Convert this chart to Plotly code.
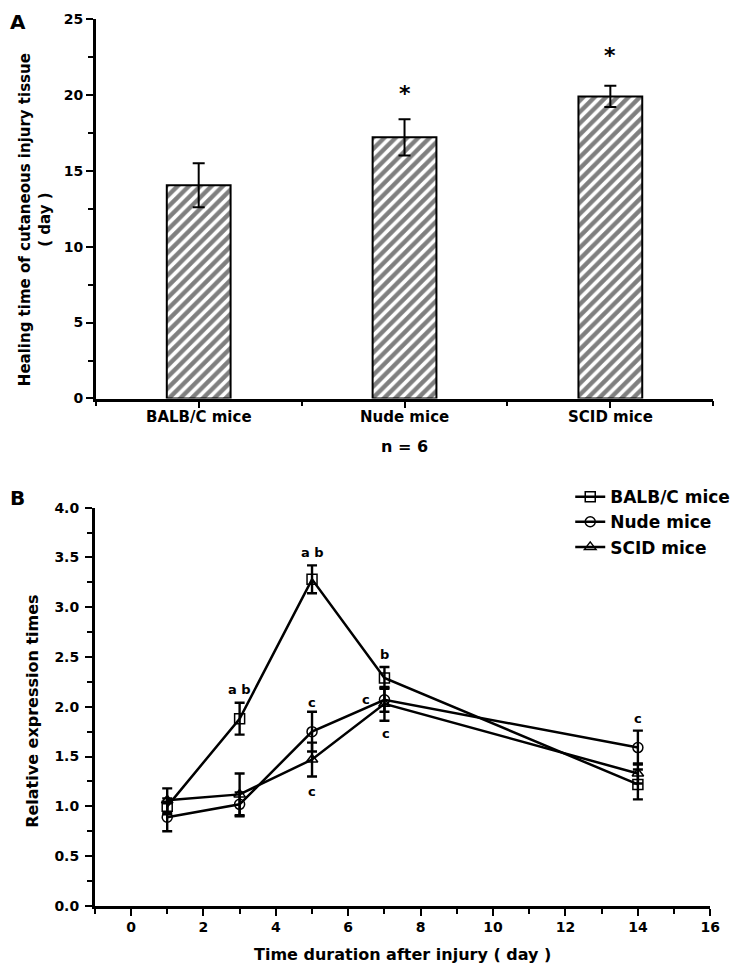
import plotly.graph_objects as go

# ---------------- data ----------------
groups = ["BALB/C mice", "Nude mice", "SCID mice"]
healing_days = [14.05, 17.2, 19.9]
healing_err = [1.45, 1.2, 0.7]
star_y = [None, 20.1, 22.6]

days = [1, 3, 5, 7, 14]
balbc = [1.0, 1.88, 3.28, 2.29, 1.22]
balbc_err = [0.08, 0.16, 0.14, 0.11, 0.15]
nude = [0.89, 1.02, 1.75, 2.07, 1.59]
nude_err = [0.14, 0.12, 0.20, 0.12, 0.17]
scid = [1.06, 1.12, 1.47, 2.03, 1.33]
scid_err = [0.12, 0.21, 0.17, 0.17, 0.10]

# significance letters: (day, y, text)
sig_labels = [(3, 2.17, "a b"), (5, 3.55, "a b"), (7, 2.52, "b"),
              (5, 2.04, "c"), (5, 1.15, "c"), (6.5, 2.07, "c"),
              (7.05, 1.73, "c"), (14, 1.88, "c")]

# ---------------- figure ----------------
# page is 750x974; the body keeps its default 8px margin
PAGE_W, PAGE_H, M = 750, 974, 8
W, H = PAGE_W - 2 * M, PAGE_H - 2 * M
BOLD = "DejaVu Sans"
fig = go.Figure()

fig.add_trace(go.Bar(
    x=list(range(len(groups))), y=healing_days, width=0.31,
    marker=dict(color="white", line=dict(color="black", width=2),
                pattern=dict(shape="/", fgcolor="black", bgcolor="white",
                             size=8, solidity=0.55)),
    error_y=dict(type="data", array=healing_err, color="black",
                 thickness=2, width=6),
    xaxis="x", yaxis="y", showlegend=False))

for i, sy in enumerate(star_y):
    if sy is not None:
        fig.add_annotation(x=i, y=sy, xref="x", yref="y", text="*",
                           showarrow=False, yanchor="middle",
                           font=dict(size=22, color="black", family=BOLD, weight="bold"))

series = [("BALB/C mice", balbc, balbc_err, "square-open"),
          ("Nude mice", nude, nude_err, "circle-open"),
          ("SCID mice", scid, scid_err, "triangle-up-open")]
for name, ys, es, sym in series:
    fig.add_trace(go.Scatter(
        x=days, y=ys, name=name, mode="lines+markers",
        line=dict(color="black", width=2.5),
        marker=dict(symbol=sym, size=10, color="black", line=dict(width=1.5, color="#444")),
        error_y=dict(type="data", array=es, color="black", thickness=2.4, width=5),
        xaxis="x2", yaxis="y2"))

for dx, dy, t in sig_labels:
    fig.add_annotation(x=dx, y=dy, xref="x2", yref="y2", text=t,
                       showarrow=False,
                       font=dict(size=13, color="black", family=BOLD, weight="bold"))

def fx(px):
    return (px - M) / W

def fy(py):
    return (H - (py - M)) / H

def px_x(a, b):
    return [fx(a), fx(b)]

def px_y(top, bottom):
    return [fy(bottom), fy(top)]

tickfont = dict(family=BOLD, size=14, color="black", weight="bold")
axis_common = dict(showline=True, linecolor="black", linewidth=2.6, ticks="outside",
                   tickcolor="black", tickwidth=2, ticklen=7, showgrid=False,
                   zeroline=False, tickfont=tickfont)

fig.update_layout(
    width=W, height=H, margin=dict(l=0, r=0, t=0, b=0),
    plot_bgcolor="white", paper_bgcolor="white",
    xaxis=dict(domain=px_x(97, 723), anchor="y", range=[-0.5, 2.5],
               tickvals=list(range(len(groups))), showticklabels=False,
               minor=dict(tickmode="array", tickvals=[-0.5, 0.5, 1.5, 2.5],
                          ticks="outside", ticklen=5, tickwidth=2, tickcolor="black"),
               **axis_common),
    yaxis=dict(domain=px_y(11, 397), anchor="x", range=[0, 25], dtick=5,
               minor=dict(dtick=2.5, ticks="outside", ticklen=5, tickwidth=2, tickcolor="black"),
               **axis_common),
    xaxis2=dict(domain=px_x(96, 720), anchor="y2", range=[-1, 16], dtick=2, tick0=0,
                minor=dict(dtick=1, ticks="outside", ticklen=5, tickwidth=2, tickcolor="black"),
                **axis_common),
    yaxis2=dict(domain=px_y(508, 913), anchor="x2", range=[0, 4], dtick=0.5,
                tickformat=".1f", ticklabelstandoff=3,
                minor=dict(dtick=0.25, ticks="outside", ticklen=5, tickwidth=2, tickcolor="black"),
                **axis_common),
    legend=dict(x=fx(578), y=fy(479), xanchor="left", yanchor="top",
                font=dict(family=BOLD, size=17, color="black", weight="bold"),
                bgcolor="rgba(0,0,0,0)", tracegroupgap=0),
    hovermode=False,
)

def label(x, y, text, size, angle=0, xref="paper"):
    fig.add_annotation(x=x if xref != "paper" else fx(x), y=fy(y),
                       xref=xref, yref="paper",
                       text=text, showarrow=False, textangle=angle,
                       font=dict(family=BOLD, size=size, color="black", weight="bold"),
                       xanchor="center", yanchor="middle")

for i, g in enumerate(groups):
    label(i, 416, g, 15, xref="x")

label(18, 14, "A", 20)
label(18, 498, "B", 20)
label(35, 215, "Healing time of cutaneous injury tissue<br>( day )", 15, -90)
label(410, 446, "n = 6", 16)
label(33, 715, "Relative expression times", 16, -90)
label(408, 962, "Time duration after injury ( day )", 16)

fig.write_html("out.html", config={"displayModeBar": False})
